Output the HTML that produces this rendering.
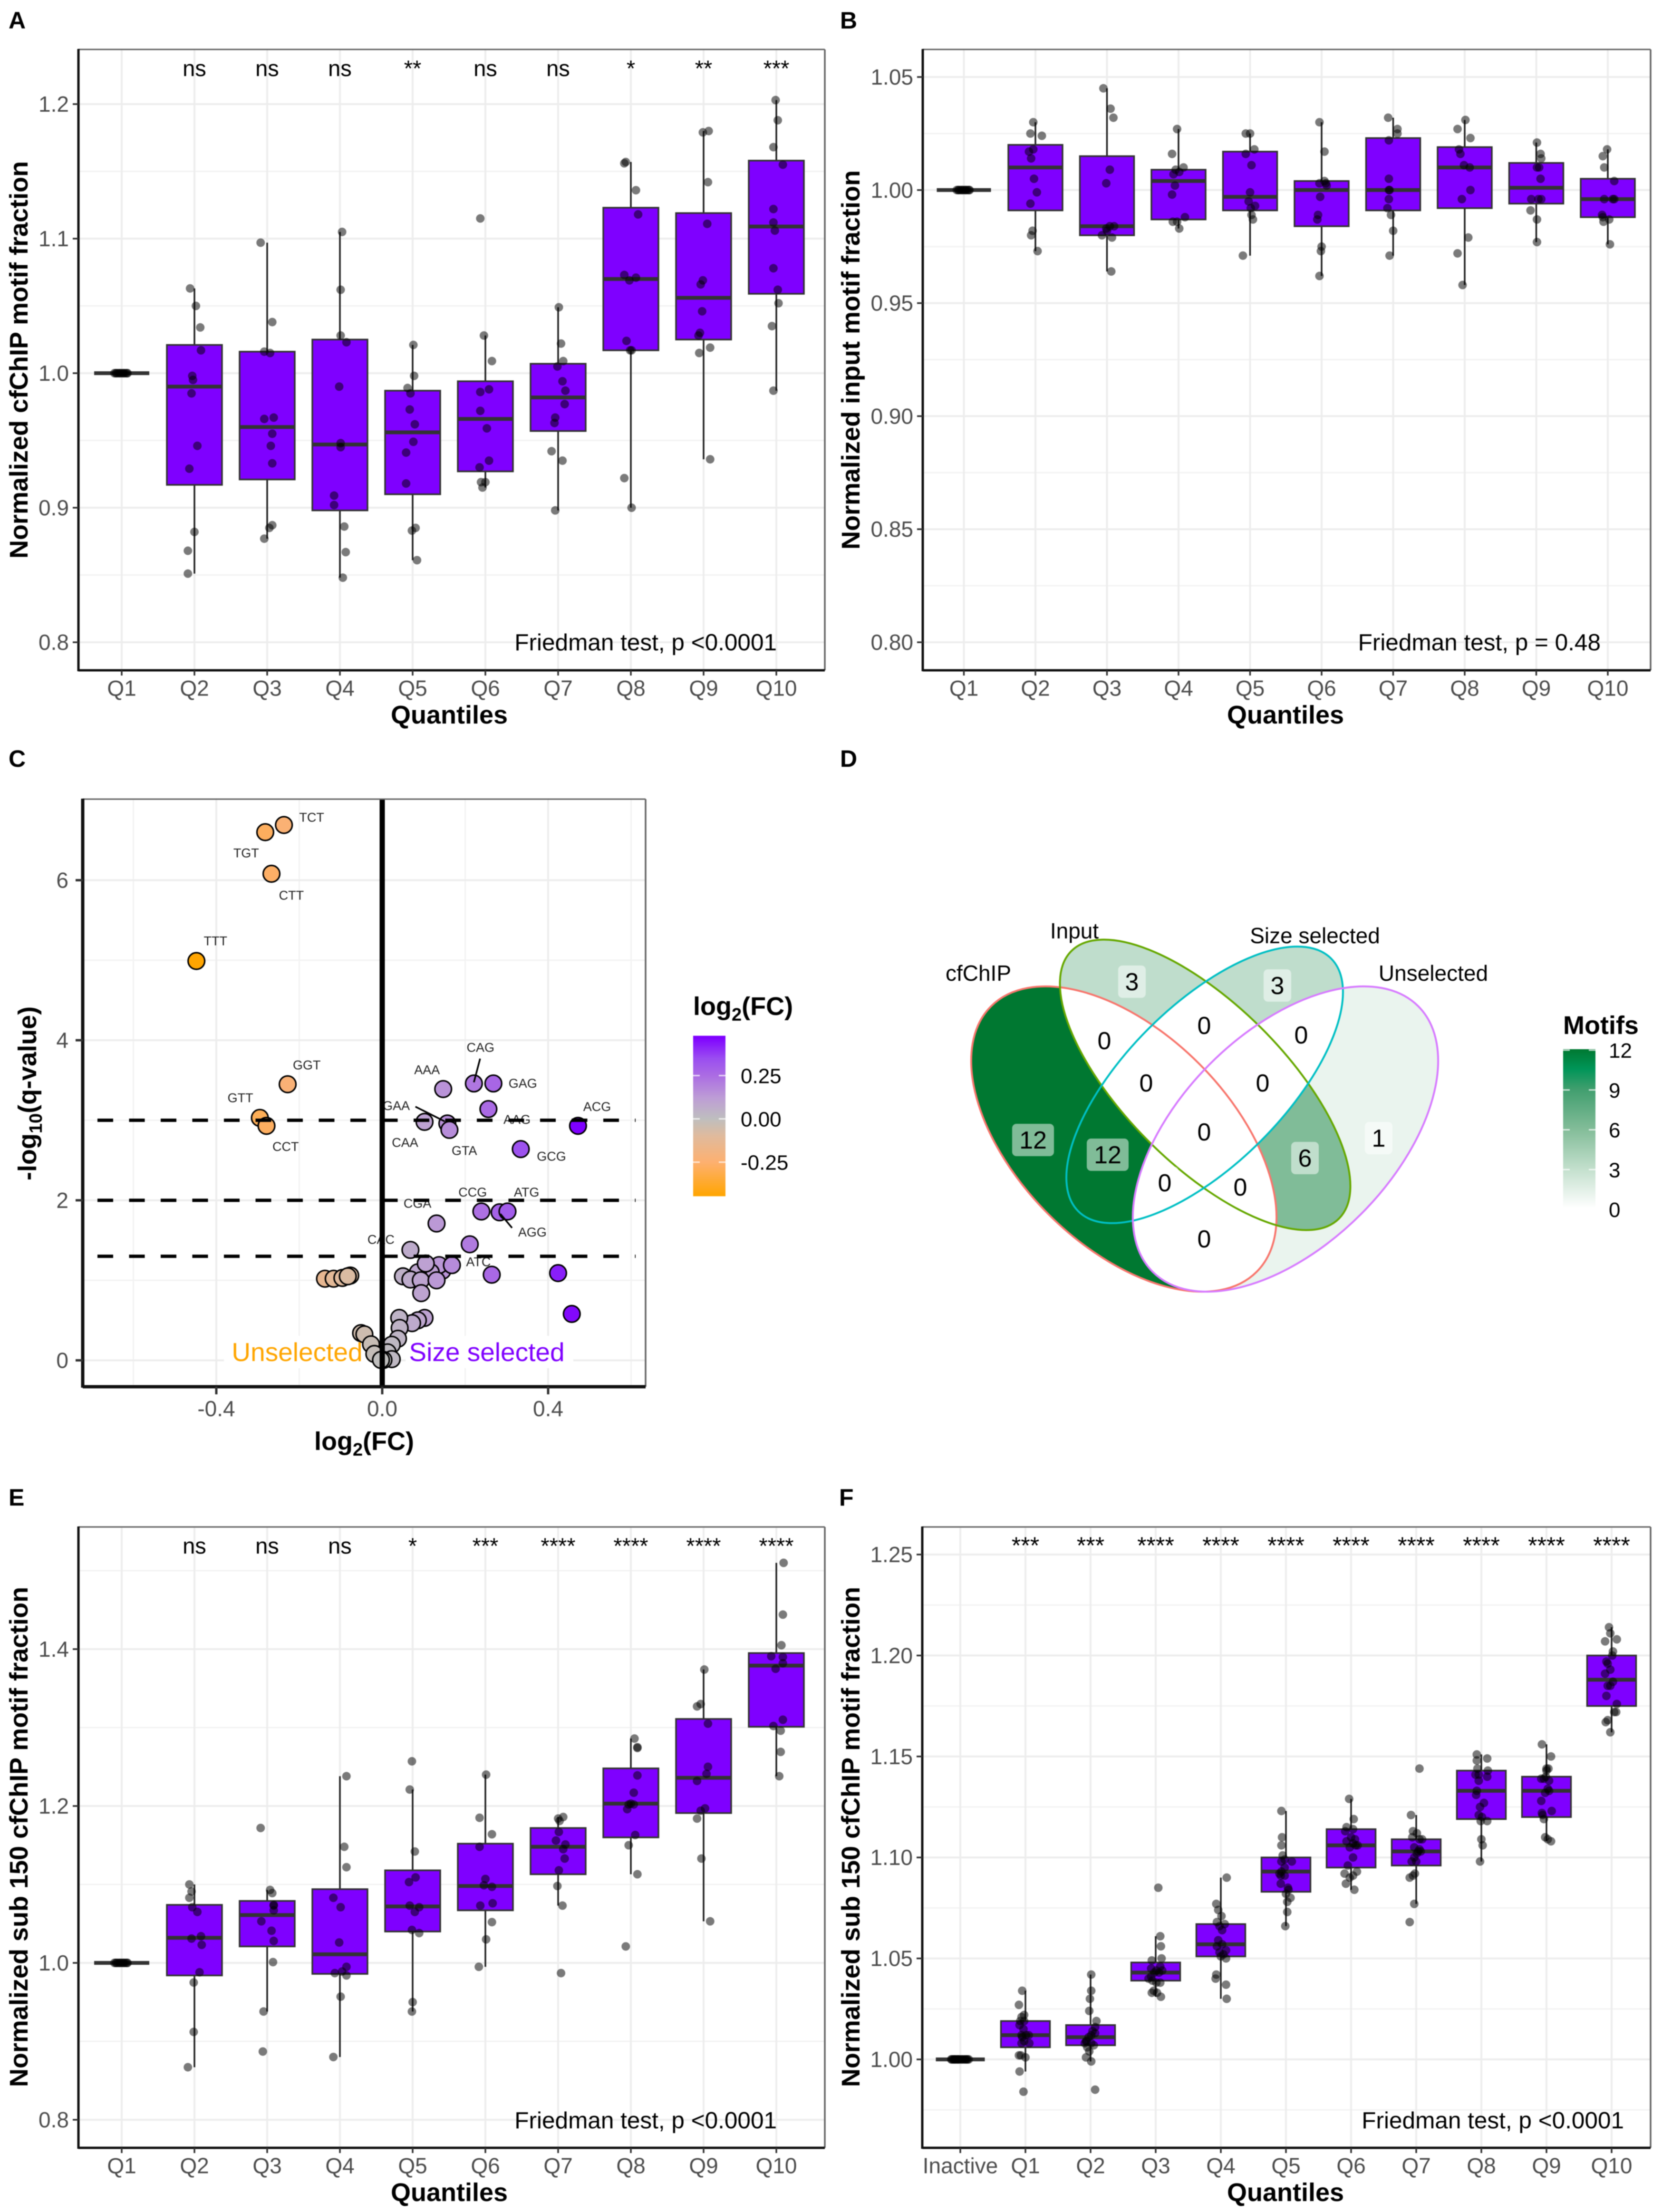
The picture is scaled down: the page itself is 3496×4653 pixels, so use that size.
<!DOCTYPE html>
<html lang="en">
<head>
<meta charset="utf-8">
<title>Motif fraction figure</title>
<style>
html,body{margin:0;padding:0;background:#fff;}
svg{display:block;font-family:"Liberation Sans",sans-serif;filter:blur(0.8px);}
.tick{fill:#4d4d4d;font-size:46px;}
.title{font-weight:bold;font-size:54px;fill:#000;}
.letter{font-weight:bold;font-size:50px;fill:#000;}
.friedman{font-size:49.5px;fill:#000;text-anchor:end;}
.setname{font-size:46px;fill:#000;text-anchor:middle;}
.legendtick{font-size:44px;fill:#000;}
</style>
</head>
<body>
<svg id="figure" xmlns="http://www.w3.org/2000/svg" width="3496" height="4653" viewBox="0 0 3496 4653">
<defs id="defs"></defs>
<rect width="3496" height="4653" fill="#fff"/>

<text class="letter" x="18" y="60">A</text>
<text class="letter" x="1767" y="60">B</text>
<text class="letter" x="18" y="1613">C</text>
<text class="letter" x="1767" y="1613">D</text>
<text class="letter" x="18" y="3167">E</text>
<text class="letter" x="1765" y="3167">F</text>

<g id="panelA"></g>
<g id="panelB"></g>
<g id="panelC"></g>
<g id="panelD"></g>
<g id="panelE"></g>
<g id="panelF"></g>

<text class="title" text-anchor="middle" transform="translate(58,757) rotate(-90)">Normalized cfChIP motif fraction</text>
<text class="title" text-anchor="middle" x="945" y="1522">Quantiles</text>
<text class="friedman" x="1634" y="1368">Friedman test, p &lt;0.0001</text>

<text class="title" text-anchor="middle" transform="translate(1808,757) rotate(-90)">Normalized input motif fraction</text>
<text class="title" text-anchor="middle" x="2704" y="1522">Quantiles</text>
<text class="friedman" x="3367" y="1368">Friedman test, p = 0.48</text>

<text class="title" text-anchor="middle" transform="translate(76,2300) rotate(-90)">-log<tspan dy="12" font-size="38">10</tspan><tspan dy="-12">(q-value)</tspan></text>
<text class="title" text-anchor="middle" x="766" y="3050">log<tspan dy="12" font-size="38">2</tspan><tspan dy="-12">(FC)</tspan></text>
<text class="title" x="1458" y="2135">log<tspan dy="12" font-size="38">2</tspan><tspan dy="-12">(FC)</tspan></text>

<text class="setname" x="2058" y="2063">cfChIP</text>
<text class="setname" x="2260" y="1974">Input</text>
<text class="setname" x="2766" y="1984">Size selected</text>
<text class="setname" x="3015" y="2063">Unselected</text>
<text class="title" x="3288" y="2175">Motifs</text>

<text class="title" text-anchor="middle" transform="translate(58,3864) rotate(-90)">Normalized sub 150 cfChIP motif fraction</text>
<text class="title" text-anchor="middle" x="945" y="4630">Quantiles</text>
<text class="friedman" x="1634" y="4477">Friedman test, p &lt;0.0001</text>

<text class="title" text-anchor="middle" transform="translate(1808,3864) rotate(-90)">Normalized sub 150 cfChIP motif fraction</text>
<text class="title" text-anchor="middle" x="2704" y="4630">Quantiles</text>
<text class="friedman" x="3416" y="4477">Friedman test, p &lt;0.0001</text>
</svg>

<script>
/* ---------- Panel A data ---------- */
const quantiles = ['Q1','Q2','Q3','Q4','Q5','Q6','Q7','Q8','Q9','Q10'];
const aTicks = [0.8,0.9,1.0,1.1,1.2];
const aTickLabels = ['0.8','0.9','1.0','1.1','1.2'];
const aMinor = [0.85,0.95,1.05,1.15];
const aSig = ['','ns','ns','ns','**','ns','ns','*','**','***'];
const aBoxTop = [1,1.021,1.016,1.025,0.987,0.994,1.007,1.123,1.119,1.158];
const aMedian = [1,0.990,0.960,0.947,0.956,0.966,0.982,1.070,1.056,1.109];
const aBoxBottom = [1,0.917,0.921,0.898,0.910,0.927,0.957,1.017,1.025,1.059];
const aWhiskerHigh = [1,1.063,1.097,1.105,1.021,1.028,1.049,1.157,1.180,1.203];
const aWhiskerLow = [1,0.851,0.877,0.848,0.861,0.915,0.898,0.900,0.936,0.987];
const aValues = [
[1,1,1,1,1,1,1,1,1,1,1,1],
[1.063,1.050,1.034,1.017,0.998,0.995,0.985,0.946,0.929,0.882,0.868,0.851],
[1.097,1.038,1.016,1.015,0.966,0.967,0.955,0.946,0.933,0.887,0.885,0.877],
[1.105,1.062,1.028,1.023,0.990,0.948,0.945,0.909,0.902,0.886,0.867,0.848],
[1.021,0.998,0.989,0.985,0.973,0.962,0.941,0.949,0.918,0.883,0.885,0.861],
[1.115,1.028,1.009,0.988,0.986,0.972,0.959,0.935,0.930,0.919,0.919,0.915],
[1.049,1.022,1.009,1.005,0.994,0.987,0.977,0.967,0.963,0.942,0.935,0.898],
[1.157,1.156,1.136,1.118,1.073,1.071,1.069,1.024,1.017,1.017,0.922,0.900],
[1.180,1.179,1.142,1.111,1.069,1.066,1.046,1.030,1.028,1.019,1.015,0.936],
[1.203,1.188,1.168,1.155,1.122,1.112,1.106,1.078,1.062,1.052,1.035,0.987]];
const aJitter = [
[-.1,-.08,-.07,-.05,-.03,-.02,0,.02,.03,.05,.07,.08],
[-.06,.02,.08,.09,-.03,-.02,-.04,.04,-.07,0,-.09,-.09],
[-.09,.07,-.04,.04,-.04,.09,.07,.05,.07,.07,.03,-.04],
[.03,.01,.01,.09,-.01,.01,.01,-.08,-.08,.06,.08,.04],
[.01,.02,-.07,-.03,-.04,.03,-.09,.01,-.09,-.01,.04,.06],
[-.07,-.02,.09,.05,-.07,-.07,.02,.05,-.08,-.06,0,-.04],
[.01,.04,.07,-.01,.06,.1,.09,-.04,-.05,-.09,.06,-.04],
[-.07,-.09,.07,.1,-.09,.07,-.02,-.06,-.01,.01,-.09,.01],
[.07,-.01,.06,.05,-.01,-.04,-.02,-.05,-.07,.09,-.06,.09],
[-.01,.02,-.04,.09,-.04,-.04,-.02,-.04,.02,.03,-.06,-.04]];

/* ---------- Panel B data ---------- */
const bTicks = [0.80,0.85,0.90,0.95,1.00,1.05];
const bTickLabels = ['0.80','0.85','0.90','0.95','1.00','1.05'];
const bMinor = [0.825,0.875,0.925,0.975,1.025];
const bSig = ['','','','','','','','','',''];
const bBoxTop = [1,1.020,1.015,1.009,1.017,1.004,1.023,1.019,1.012,1.005];
const bMedian = [1,1.010,0.984,1.004,0.997,1.000,1.000,1.010,1.001,0.996];
const bBoxBottom = [1,0.991,0.980,0.987,0.991,0.984,0.991,0.992,0.994,0.988];
const bWhiskerHigh = [1,1.030,1.045,1.027,1.025,1.030,1.032,1.031,1.021,1.018];
const bWhiskerLow = [1,0.973,0.964,0.983,0.971,0.962,0.971,0.958,0.977,0.976];
const bValues = [
[1,1,1,1,1,1,1,1,1,1,1,1],
[1.030,1.025,1.024,1.018,1.017,1.014,1.005,0.999,0.994,0.982,0.980,0.973],
[1.045,1.036,1.032,1.009,1.003,0.983,0.984,0.984,0.980,0.979,0.982,0.964],
[1.027,1.016,1.010,1.008,1.007,1.002,0.998,0.988,0.986,0.986,0.983,1.009],
[1.025,1.025,1.018,1.016,1.011,0.999,0.995,0.993,0.992,0.989,0.987,0.971],
[1.030,1.017,1.004,1.003,1.002,0.997,0.989,0.987,0.975,0.973,0.962,1.003],
[1.032,1.027,1.025,1.022,1.005,1.000,1.000,0.996,0.992,0.989,0.982,0.971],
[1.031,1.027,1.023,1.018,1.016,1.011,1.010,1.000,0.996,0.979,0.972,0.958],
[1.021,1.016,1.014,1.010,1.010,1.005,0.996,0.996,0.996,0.991,0.987,0.977],
[1.018,1.015,1.010,1.004,0.996,0.996,0.996,0.989,0.988,0.987,0.986,0.976]];
const bJitter = [
[-.1,-.08,-.07,-.05,-.03,-.02,0,.02,.03,.05,.07,.08],
[-.03,-.07,.09,-.03,-.09,-.06,-.02,.02,-.07,-.04,-.06,.03],
[-.05,.05,.09,.04,-.01,-.01,.1,.04,-.07,.07,0,.06],
[-.02,-.09,.07,.01,-.07,-.05,-.09,.09,-.02,-.08,.01,-.04],
[0,-.06,.06,-.06,.02,0,-.02,.07,.01,.02,.04,-.1],
[-.03,.04,.04,-.03,.07,-.02,-.05,-.06,0,-.01,-.03,.06],
[-.07,.06,.06,-.06,-.06,-.06,-.05,-.06,-.08,-.03,0,-.05],
[.01,-.1,.08,-.08,-.06,-.01,.07,.08,-.04,.05,-.1,-.03],
[.01,.06,.07,.04,.01,.06,-.07,.07,.03,-.08,.01,.01],
[-.01,-.07,-.05,.09,-.05,.09,.07,-.08,-.07,.02,-.06,.03]];

/* ---------- Panel E data ---------- */
const eTicks = [0.8,1.0,1.2,1.4];
const eTickLabels = ['0.8','1.0','1.2','1.4'];
const eMinor = [0.9,1.1,1.3,1.5];
const eSig = ['','ns','ns','ns','*','***','****','****','****','****'];
const eBoxTop = [1,1.074,1.079,1.094,1.118,1.152,1.172,1.248,1.311,1.395];
const eMedian = [1,1.032,1.061,1.011,1.072,1.098,1.148,1.203,1.236,1.379];
const eBoxBottom = [1,0.984,1.021,0.986,1.040,1.067,1.113,1.160,1.191,1.301];
const eWhiskerHigh = [1,1.100,1.093,1.238,1.221,1.240,1.186,1.286,1.374,1.510];
const eWhiskerLow = [1,0.867,0.938,0.880,0.938,0.995,1.073,1.113,1.053,1.238];
const eValues = [
[1,1,1,1,1,1,1,1,1,1,1,1],
[1.100,1.091,1.083,1.071,1.065,1.031,1.034,1.023,0.988,0.975,0.912,0.867],
[1.172,1.093,1.089,1.074,1.067,1.053,1.041,1.028,1.001,0.938,0.887,1.073],
[1.238,1.148,1.122,1.083,1.071,1.026,0.995,0.989,0.987,0.984,0.957,0.880],
[1.257,1.221,1.142,1.109,1.103,1.073,1.071,1.065,1.042,1.038,0.950,0.938],
[1.240,1.185,1.164,1.148,1.107,1.099,1.097,1.076,1.073,1.052,1.030,0.995],
[1.184,1.186,1.181,1.167,1.156,1.151,1.145,1.133,1.118,1.098,1.073,0.987],
[1.286,1.274,1.275,1.239,1.217,1.203,1.202,1.202,1.196,1.163,1.150,1.113,1.021],
[1.374,1.330,1.327,1.305,1.250,1.241,1.232,1.197,1.194,1.184,1.133,1.053],
[1.510,1.444,1.405,1.391,1.390,1.382,1.375,1.310,1.302,1.296,1.269,1.238]];
const eJitter = [
[-.1,-.08,-.07,-.05,-.03,-.02,0,.02,.03,.05,.07,.08],
[-.07,-.04,-.07,-.03,.04,-.04,.09,.1,.07,-.01,-.01,-.09],
[-.09,.04,.07,.09,.09,-.08,.06,.09,.08,-.05,-.06,.09],
[.09,.06,.09,-.09,.01,-.01,.09,.03,-.07,.09,.01,-.09],
[-.01,-.04,.03,.04,-.05,-.04,.09,.03,-.01,.09,0,-.01],
[.01,-.08,.09,-.08,0,-.02,.09,.1,-.07,.09,.01,-.09],
[0,.07,.02,.01,-.03,.1,.07,.09,.01,-.01,.06,.04],
[.05,.09,.09,.09,.04,0,.04,-.03,-.05,.06,-.03,.09,-.07],
[.01,-.04,-.09,.06,.06,.04,-.09,.02,-.04,-.09,-.03,.09],
[.1,.09,.07,-.07,.09,.09,-.01,.09,-.04,.06,.06,.04]];

/* ---------- Panel F data ---------- */
const fCategories = ['Inactive','Q1','Q2','Q3','Q4','Q5','Q6','Q7','Q8','Q9','Q10'];
const fTicks = [1.00,1.05,1.10,1.15,1.20,1.25];
const fTickLabels = ['1.00','1.05','1.10','1.15','1.20','1.25'];
const fMinor = [0.975,1.025,1.075,1.125,1.175,1.225];
const fSig = ['','***','***','****','****','****','****','****','****','****','****'];
const fBoxTop = [1,1.019,1.017,1.048,1.067,1.100,1.114,1.109,1.143,1.140,1.200];
const fMedian = [1,1.012,1.011,1.043,1.057,1.093,1.106,1.103,1.133,1.133,1.188];
const fBoxBottom = [1,1.006,1.007,1.039,1.051,1.083,1.095,1.096,1.119,1.120,1.175];
const fWhiskerHigh = [1,1.034,1.042,1.061,1.090,1.123,1.129,1.121,1.151,1.156,1.214];
const fWhiskerLow = [1,0.994,0.999,1.031,1.030,1.066,1.084,1.077,1.098,1.108,1.162];
const fValues = [
[1,1,1,1,1,1,1,1,1,1,1,1,1,1,1,1,1,1,1,1],
[1.034,1.027,1.022,1.021,1.019,1.019,1.017,1.015,1.012,1.012,1.012,1.011,1.009,1.008,1.008,1.002,1.002,1.001,0.994,0.984],
[1.042,1.034,1.030,1.024,1.019,1.016,1.014,1.012,1.013,1.011,1.009,1.008,1.008,1.007,1.006,1.004,1.001,0.999,0.985,1.009],
[1.085,1.061,1.056,1.049,1.050,1.046,1.045,1.044,1.044,1.043,1.043,1.041,1.040,1.039,1.038,1.038,1.034,1.033,1.031,1.033],
[1.090,1.077,1.074,1.071,1.068,1.067,1.066,1.064,1.059,1.056,1.054,1.053,1.052,1.050,1.042,1.040,1.037,1.030,1.051,1.057],
[1.123,1.110,1.106,1.101,1.099,1.098,1.095,1.093,1.092,1.091,1.087,1.085,1.082,1.080,1.078,1.073,1.066,1.098,1.084,1.091],
[1.129,1.119,1.115,1.113,1.114,1.109,1.108,1.107,1.106,1.105,1.106,1.100,1.096,1.093,1.092,1.091,1.090,1.087,1.084,1.110],
[1.144,1.121,1.113,1.112,1.109,1.110,1.109,1.104,1.102,1.103,1.100,1.098,1.098,1.092,1.091,1.090,1.077,1.068,1.103,1.105],
[1.151,1.149,1.148,1.144,1.143,1.141,1.141,1.140,1.138,1.133,1.131,1.125,1.121,1.120,1.118,1.118,1.109,1.106,1.098,1.127],
[1.156,1.150,1.144,1.143,1.139,1.138,1.140,1.134,1.133,1.132,1.128,1.123,1.122,1.119,1.110,1.109,1.108,1.144,1.121,1.139],
[1.214,1.211,1.207,1.208,1.202,1.200,1.197,1.196,1.193,1.191,1.187,1.185,1.185,1.180,1.176,1.172,1.172,1.168,1.167,1.162]];
const fJitter = [
[-.14,-.13,-.11,-.1,-.09,-.08,-.07,-.05,-.04,-.03,-.02,0,.02,.03,.05,.07,.08,.1,.11,.13],
[-.05,-.1,-.02,-.06,-.08,-.02,-.09,-.03,-.06,.01,.05,-.05,-.02,.06,-.06,-.1,-.07,0,-.09,-.03],
[.01,.01,-.01,-.02,.09,.07,.03,.01,.07,-.03,-.06,.01,-.09,.05,-.05,-.02,-.07,.01,.07,-.07],
[.04,.07,.08,-.06,.09,.07,-.07,.01,.1,-.02,.05,-.07,-.11,-.05,.07,.01,-.03,.02,.08,-.06],
[.09,-.07,-.04,.01,-.06,.06,-.02,.02,-.04,-.06,.08,-.02,.04,.08,-.07,-.08,.08,.09,0,.02],
[-.07,-.06,-.07,-.05,-.02,.09,-.02,-.07,-.1,-.02,-.08,.03,0,.07,.02,.02,-.01,-.07,.04,-.08],
[-.03,.04,-.07,-.09,.03,.06,-.07,.03,.07,-.02,.1,.03,-.05,.09,-.1,.03,-.02,-.08,.05,0],
[.05,-.08,-.05,.01,.05,-.06,.09,.05,.01,.07,-.03,0,-.07,-.02,-.05,-.1,-.03,-.1,.03,-.03],
[-.07,.09,-.07,-.06,.1,-.09,-.04,.09,-.04,-.07,-.08,-.02,-.04,.01,-.01,.09,0,.02,-.02,.04],
[-.07,.07,.03,0,-.08,.04,-.01,.02,.04,-.02,-.08,.08,-.07,-.04,-.02,.02,.07,0,-.06,-.04],
[-.04,-.02,-.1,.08,.02,.01,-.08,-.06,-.02,-.1,.02,-.02,-.06,-.08,.08,.04,.07,-.06,-.09,-.02]];

/* ---------- Panel C data ---------- */
const volcanoFC = [-.237,-.282,-.267,-.448,-.228,-.295,-.279,-.138,-.117,-.096,-.077,-.083,
 .147,.221,.268,.256,.102,.157,.162,.334,.472,.239,.283,.302,.131,.068,.211,.264,.424,.457,
 .145,.137,.117,.086,.050,.168,.105,.068,.093,.131,.094,
 .102,.086,.072,.041,.042,.038,.023,.013,-.051,-.043,-.027,-.019,.023,.003,-.003];
const volcanoQ = [6.69,6.60,6.08,4.99,3.45,3.03,2.93,1.02,1.02,1.03,1.06,1.05,
 3.39,3.46,3.46,3.14,2.98,2.96,2.88,2.64,2.93,1.86,1.85,1.86,1.71,1.38,1.45,1.07,1.09,.58,
 1.12,1.19,1.10,1.10,1.05,1.19,1.21,1.01,1.00,1.00,.84,
 .53,.50,.465,.53,.405,.27,.195,.10,.34,.325,.20,.08,.015,.005,.005];
const volcanoThresholds = [3,2,1.3];
const volcanoXTicks = [-0.4,0,0.4];
const volcanoXLabels = ['-0.4','0.0','0.4'];
const volcanoXMinor = [-0.6,-0.2,0.2,0.6];
const volcanoYTicks = [0,2,4,6];
const volcanoYMinor = [1,3,5];
const motifNames = ['TCT','TGT','CTT','TTT','GGT','GTT','CCT','AAA','CAG','GAG','GAA','AAG','ACG','CAA','GTA','GCG','CCG','ATG','CGA','AGG','CAC','ATC'];
const motifLabelFC = [-.170,-.328,-.219,-.402,-.182,-.342,-.233,.108,.237,.339,.034,.325,.518,.055,.198,.408,.218,.348,.085,.362,-.003,.232];
const motifLabelQ = [6.785,6.34,5.81,5.24,3.69,3.28,2.67,3.63,3.91,3.46,3.18,3.01,3.17,2.72,2.62,2.55,2.10,2.10,1.96,1.60,1.51,1.23];
const connectorFromFC = [.236,.080,.313];
const connectorFromQ = [3.77,3.17,1.655];
const connectorToFC = [.221,.151,.285];
const connectorToQ = [3.475,2.985,1.83];
const fcLegendTicks = [-0.25,0,0.25];
const fcLegendLabels = ['-0.25','0.00','0.25'];

/* ---------- Panel D data ---------- */
const vennRegions = ['A','B','C','D','AB','AC','AD','BC','BD','CD','ABC','ABD','ACD','BCD','ABCD'];
const vennCounts = [12,3,3,1,0,12,0,0,6,0,0,0,0,0,0];
const motifLegendTicks = [0,3,6,9,12];

/* ---------- helpers ---------- */
const NS = 'http://www.w3.org/2000/svg';
function mk(tag, attrs, parent, text){
  const el = document.createElementNS(NS, tag);
  for (const k in attrs) el.setAttribute(k, attrs[k]);
  if (text !== undefined) el.textContent = text;
  parent.appendChild(el);
  return el;
}
function linear(d0, d1, r0, r1){
  return v => r0 + (v - d0) * (r1 - r0) / (d1 - d0);
}
const MAJOR = '#ededed', MINOR = '#f3f3f3';

function frame(g, L, R, T, B, key, axisWeight){
  let el = mk('line',{x1:L,x2:R,y1:T,y2:T,stroke:'#666','stroke-width':3},g);
  
  
  el = mk('line',{x1:R,x2:R,y1:T,y2:B,stroke:'#666','stroke-width':3.5},g);
  
  
  el = mk('line',{x1:L,x2:L,y1:T-1,y2:B+2,stroke:'#111','stroke-width':axisWeight},g);
  
  
  el = mk('line',{x1:L,x2:R,y1:B,y2:B,stroke:'#111','stroke-width':axisWeight},g);
  
  
}
function gridX(g, x, L){
  const el = mk('line',{x1:x,x2:x,y1:L.T,y2:L.B,stroke:L.major?MAJOR:MINOR,'stroke-width':L.major?4:3},g);
  
  
}
function gridY(g, y, L){
  const el = mk('line',{x1:L.L,x2:L.R,y1:y,y2:y,stroke:L.major?MAJOR:MINOR,'stroke-width':L.major?4:3},g);
  
  
}
function tickY(g, y, L, label){
  let el = mk('line',{x1:L.L-12,x2:L.L,y1:y,y2:y,stroke:'#333','stroke-width':3.5},g);
  
  
  el = mk('text',{x:L.L-20,y:y+16,'text-anchor':'end','class':'tick'},g,label);
  
  
}
function tickX(g, x, L, label){
  let el = mk('line',{x1:x,x2:x,y1:L.B,y2:L.B+11,stroke:'#333','stroke-width':3.5},g);
  
  
  el = mk('text',{x:x,y:L.B+53.5,'text-anchor':'middle','class':'tick'},g,label);
  
  
}

function drawBoxPanel(p){
  const g = document.getElementById(p.id);
  const x = linear(0, p.cats.length-1, p.x0, p.xN);
  const y = linear(p.vA, p.vB, p.yA, p.yB);
  p.minor.forEach(v => gridY(g, y(v), {L:p.L,R:p.R,major:false}));
  p.ticks.forEach(v => gridY(g, y(v), {L:p.L,R:p.R,major:true}));
  p.cats.forEach((c,i) => gridX(g, x(i), {T:p.T,B:p.B,major:true}));

  p.cats.forEach((c,i) => {
    const cx = x(i), hw = p.boxW/2;
    let el = mk('line',{x1:cx,x2:cx,y1:y(p.hi[i]),y2:y(p.top[i]),stroke:'#222','stroke-width':3.5},g);
    
    
    el = mk('line',{x1:cx,x2:cx,y1:y(p.bot[i]),y2:y(p.lo[i]),stroke:'#222','stroke-width':3.5},g);
    
    
    el = mk('rect',{x:cx-hw,y:y(p.top[i]),width:p.boxW,height:Math.max(0,y(p.bot[i])-y(p.top[i])),fill:'#7F00FF',stroke:'#333','stroke-width':3.5},g);
    
    
    el = mk('line',{x1:cx-hw,x2:cx+hw,y1:y(p.med[i]),y2:y(p.med[i]),stroke:'#333','stroke-width':8},g);
    
    
  });
  p.cats.forEach((c,i) => {
    p.vals[i].forEach((v,k) => {
      const el = mk('circle',{cx:x(i+p.jit[i][k]),cy:y(v),r:9,fill:'#000','fill-opacity':0.52},g);
      
      
    });
    if (p.sig[i]) {
      const t = mk('text',{x:x(i),y:p.sigY,'text-anchor':'middle','font-size':p.sigSize,fill:'#000'},g,p.sig[i]);
      
      
    }
  });
  frame(g, p.L, p.R, p.T, p.B, p.id, 5);
  p.ticks.forEach((v,i) => tickY(g, y(v), {L:p.L}, p.tickLabels[i]));
  p.cats.forEach((c,i) => tickX(g, x(i), {B:p.B}, c));
}

drawBoxPanel({id:'panelA',cats:quantiles,L:165,R:1735,T:104,B:1410,x0:256,xN:1633,boxW:116,vA:0.8,vB:1.2,yA:1351,yB:219,
  ticks:aTicks,tickLabels:aTickLabels,minor:aMinor,sig:aSig,sigY:160,sigSize:47,top:aBoxTop,med:aMedian,bot:aBoxBottom,hi:aWhiskerHigh,lo:aWhiskerLow,vals:aValues,jit:aJitter});
drawBoxPanel({id:'panelB',cats:quantiles,L:1941,R:3472,T:104,B:1410,x0:2027.5,xN:3382,boxW:114,vA:0.8,vB:1.05,yA:1351,yB:162,
  ticks:bTicks,tickLabels:bTickLabels,minor:bMinor,sig:bSig,sigY:160,sigSize:47,top:bBoxTop,med:bMedian,bot:bBoxBottom,hi:bWhiskerHigh,lo:bWhiskerLow,vals:bValues,jit:bJitter});
drawBoxPanel({id:'panelE',cats:quantiles,L:165,R:1735,T:3212,B:4518,x0:256,xN:1633,boxW:116,vA:0.8,vB:1.4,yA:4459,yB:3469,
  ticks:eTicks,tickLabels:eTickLabels,minor:eMinor,sig:eSig,sigY:3268,sigSize:47,top:eBoxTop,med:eMedian,bot:eBoxBottom,hi:eWhiskerHigh,lo:eWhiskerLow,vals:eValues,jit:eJitter});
drawBoxPanel({id:'panelF',cats:fCategories,L:1940,R:3472,T:3212,B:4518,x0:2020,xN:3390,boxW:103,vA:1.0,vB:1.25,yA:4332,yB:3270,
  ticks:fTicks,tickLabels:fTickLabels,minor:fMinor,sig:fSig,sigY:3268,sigSize:50,top:fBoxTop,med:fMedian,bot:fBoxBottom,hi:fWhiskerHigh,lo:fWhiskerLow,vals:fValues,jit:fJitter});

/* ---------- Panel C drawing ---------- */
(function(){
  const g = document.getElementById('panelC');
  const L = 174, R = 1358, T = 1681, B = 2917;
  const x = linear(-0.4, 0.4, 455, 1153);
  const y = linear(0, 6, 2861.5, 1851.5);
  const stops = [[-.45,[255,165,0]],[-.25,[253,176,112]],[-.1,[224,186,156]],[0,[190,190,190]],[.12,[189,157,213]],[.25,[171,108,227]],[.35,[154,77,240]],[.47,[127,0,255]]];
  function colour(v){
    if (v <= stops[0][0]) return 'rgb('+stops[0][1].join(',')+')';
    for (let i=1;i<stops.length;i++){
      if (v <= stops[i][0]){
        const t=(v-stops[i-1][0])/(stops[i][0]-stops[i-1][0]);
        const c=stops[i-1][1].map((a,k)=>Math.round(a+(stops[i][1][k]-a)*t));
        return 'rgb('+c.join(',')+')';
      }
    }
    return 'rgb('+stops[stops.length-1][1].join(',')+')';
  }
  volcanoXMinor.forEach(v => gridX(g, x(v), {T,B,major:false}));
  volcanoYMinor.forEach(v => gridY(g, y(v), {L,R,major:false}));
  volcanoXTicks.forEach(v => gridX(g, x(v), {T,B,major:true}));
  volcanoYTicks.forEach(v => gridY(g, y(v), {L,R,major:true}));

  let el = mk('rect',{x:471,y:2810,width:309,height:68,fill:'#fff'},g);
  
  
  el = mk('rect',{x:853,y:2810,width:353,height:68,fill:'#fff'},g);
  
  
  el = mk('text',{x:625,y:2863,'text-anchor':'middle','font-size':55,fill:'#FFA500'},g,'Unselected');
  
  
  el = mk('text',{x:1024,y:2863,'text-anchor':'middle','font-size':55,fill:'#7F00FF'},g,'Size selected');
  
  

  volcanoFC.forEach((v,i) => {
    const c = mk('circle',{cx:x(v),cy:y(volcanoQ[i]),r:17.5,fill:colour(v),stroke:'#000','stroke-width':3.2},g);
    
    
  });
  connectorFromFC.forEach((v,i) => {
    const s = mk('line',{x1:x(v),y1:y(connectorFromQ[i]),x2:x(connectorToFC[i]),y2:y(connectorToQ[i]),stroke:'#000','stroke-width':3.5},g);
    
    
  });
  motifNames.forEach((n,i) => {
    const t = mk('text',{x:x(motifLabelFC[i]),y:y(motifLabelQ[i])+9,'text-anchor':'middle','font-size':27,fill:'#222'},g,n);
    
    
  });
  volcanoThresholds.forEach(v => {
    const d = mk('line',{x1:205,x2:1337,y1:y(v),y2:y(v),stroke:'#000','stroke-width':7,'stroke-dasharray':'33 33.5'},g);
    
    
  });
  el = mk('line',{x1:x(0),x2:x(0),y1:T,y2:B,stroke:'#000','stroke-width':11},g);
  
  
  frame(g, L, R, T, B, 'panelC', 7);
  volcanoYTicks.forEach(v => {
    const ty = y(v);
    let e = mk('line',{x1:L-15,x2:L,y1:ty,y2:ty,stroke:'#333','stroke-width':5},g);
    
    
    e = mk('text',{x:L-30,y:ty+16,'text-anchor':'end','class':'tick'},g,String(v));
    
    
  });
  volcanoXTicks.forEach((v,i) => {
    const tx = x(v);
    let e = mk('line',{x1:tx,x2:tx,y1:B,y2:B+16,stroke:'#333','stroke-width':5},g);
    
    
    e = mk('text',{x:tx,y:2979,'text-anchor':'middle','class':'tick'},g,volcanoXLabels[i]);
    
    
  });

  /* colour legend */
  const defs = document.getElementById('defs');
  const barY = linear(-0.25, 0.25, 2444.6, 2262.5);
  const lo = -0.447, hi = 0.48;
  const grad = mk('linearGradient',{id:'fcGrad',x1:0,y1:1,x2:0,y2:0},defs);
  stops.forEach(s => mk('stop',{offset:Math.max(0,Math.min(1,(s[0]-lo)/(hi-lo))),'stop-color':'rgb('+s[1].join(',')+')'},grad));
  el = mk('rect',{x:1458,y:barY(hi),width:68,height:barY(lo)-barY(hi),fill:'url(#fcGrad)'},g);
  
  
  fcLegendTicks.forEach((v,i) => {
    let e = mk('line',{x1:1458,x2:1472,y1:barY(v),y2:barY(v),stroke:'#fff','stroke-width':3,'stroke-opacity':.7},g);
    
    
    e = mk('line',{x1:1512,x2:1526,y1:barY(v),y2:barY(v),stroke:'#fff','stroke-width':3,'stroke-opacity':.7},g);
    
    
    e = mk('text',{x:1558,y:barY(v)+16,'class':'legendtick'},g,fcLegendLabels[i]);
    
    
  });
})();

/* ---------- Panel D drawing ---------- */
(function(){
  const g = document.getElementById('panelD');
  const defs = document.getElementById('defs');
  const shapes = {
    A:{cx:2364,cy:2396,a:395,b:224,rot:45,stroke:'#F8766D',name:'cfchip'},
    B:{cx:2535,cy:2282,a:398,b:168,rot:45,stroke:'#66A800',name:'input'},
    C:{cx:2534,cy:2282,a:376,b:167,rot:-45,stroke:'#00BFC4',name:'size-selected'},
    D:{cx:2704,cy:2396,a:395,b:224,rot:-45,stroke:'#D77CFF',name:'unselected'}
  };
  /* label anchor layout for each Venn region (not chart values) */
  const vennLabelLayout = {
    A:{x:2173,y:2398}, B:{x:2381,y:2065}, C:{x:2687,y:2073}, D:{x:2900,y:2394},
    AB:{x:2323,y:2189}, AC:{x:2330,y:2429}, AD:{x:2533,y:2606}, BC:{x:2533,y:2157},
    BD:{x:2745,y:2436}, CD:{x:2737,y:2177}, ABC:{x:2411,y:2278}, ABD:{x:2609,y:2497},
    ACD:{x:2450,y:2488}, BCD:{x:2656,y:2278}, ABCD:{x:2533,y:2381}
  };
  const setIds = Object.keys(shapes);
  function attrs(s){ return {cx:s.cx,cy:s.cy,rx:s.a,ry:s.b,transform:'rotate('+s.rot+' '+s.cx+' '+s.cy+')'}; }
  setIds.forEach(id => {
    const cp = mk('clipPath',{id:'clip'+id},defs);
    mk('ellipse',attrs(shapes[id]),cp);
  });
  function fillFor(n){
    const t = n/12;
    return 'rgb('+Math.round(255-255*t)+','+Math.round(255-135*t)+','+Math.round(255-206*t)+')';
  }
  vennRegions.forEach((r,i) => {
    const ins = r.split('');
    const outs = setIds.filter(k => !ins.includes(k));
    const mask = mk('mask',{id:'mask'+r,maskUnits:'userSpaceOnUse',x:1800,y:1800,width:1600,height:1400},defs);
    mk('rect',{x:1800,y:1800,width:1600,height:1400,fill:'#fff'},mask);
    outs.forEach(k => { const a=attrs(shapes[k]); a.fill='#000'; mk('ellipse',a,mask); });
    let parent = mk('g',{mask:'url(#mask'+r+')'},g);
    ins.slice(1).forEach(k => { parent = mk('g',{'clip-path':'url(#clip'+k+')'},parent); });
    const a = attrs(shapes[ins[0]]); a.fill = fillFor(vennCounts[i]);
    const el = mk('ellipse',a,parent);
    
    
  });
  setIds.forEach(id => {
    const a = attrs(shapes[id]); a.fill='none'; a.stroke=shapes[id].stroke; a['stroke-width']=4;
    const el = mk('ellipse',a,g);
    
    
  });
  vennRegions.forEach((r,i) => {
    const pos = vennLabelLayout[r];
    const label = String(vennCounts[i]), w = label.length>1?88:58;
    let el = mk('rect',{x:pos.x-w/2,y:pos.y-34,width:w,height:68,rx:9,fill:'#fff','fill-opacity':.5},g);
    
    
    el = mk('text',{x:pos.x,y:pos.y+18,'text-anchor':'middle','font-size':52,fill:'#000'},g,label);
    
    
  });
  /* motif legend */
  const ly = linear(0, 12, 2544, 2209);
  const grad = mk('linearGradient',{id:'motifGrad',x1:0,y1:1,x2:0,y2:0},defs);
  [[0,'#ffffff'],[.25,'#c2dfcc'],[.5,'#82bc98'],[.75,'#409e6e'],[.875,'#009558'],[1,'#007831']].forEach(s => mk('stop',{offset:s[0],'stop-color':s[1]},grad));
  let bar = mk('rect',{x:3288,y:2207,width:68,height:335,fill:'url(#motifGrad)'},g);
  
  
  motifLegendTicks.forEach(v => {
    let e = mk('line',{x1:3288,x2:3302,y1:ly(v),y2:ly(v),stroke:'#fff','stroke-width':3,'stroke-opacity':.7},g);
    
    
    e = mk('line',{x1:3342,x2:3356,y1:ly(v),y2:ly(v),stroke:'#fff','stroke-width':3,'stroke-opacity':.7},g);
    
    
    e = mk('text',{x:3384,y:ly(v)+16,'class':'legendtick'},g,String(v));
    
    
  });
})();
</script>
</body>
</html>
